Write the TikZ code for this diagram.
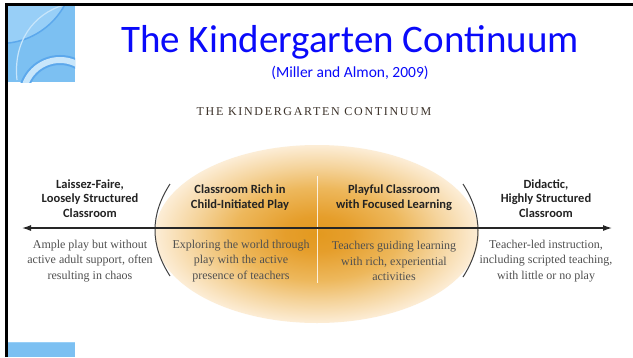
\documentclass[tikz,border=0pt]{standalone}
\usepackage{fontspec}
\setmainfont{Liberation Serif}
\newfontfamily\titlefont{Carlito}
\newfontfamily\capsfont[LetterSpace=14]{Liberation Serif}
\usetikzlibrary{arrows.meta}
\definecolor{titleblue}{RGB}{10,10,250}
\definecolor{headgray}{RGB}{35,35,35}
\definecolor{descgray}{RGB}{80,80,80}
\definecolor{capsbrown}{RGB}{60,50,42}
\definecolor{tileblue}{RGB}{124,192,242}
\definecolor{tilelight}{RGB}{152,207,247}
\definecolor{tiledark}{RGB}{92,168,236}
\definecolor{tilepale}{RGB}{200,230,251}
\pgfdeclareradialshading{kgglow}{\pgfpoint{0bp}{0bp}}{rgb(0bp)=(0.89,0.60,0.12);rgb(5bp)=(0.90,0.62,0.17);rgb(13bp)=(0.93,0.72,0.36);rgb(19bp)=(0.96,0.83,0.61);rgb(25bp)=(0.99,0.93,0.84);rgb(50bp)=(1,1,1)}
\tikzset{
  head/.style={font=\titlefont\bfseries\fontsize{12.5}{14.5}\selectfont, align=center, text=headgray, inner sep=0pt},
  desc/.style={font=\fontsize{12}{15.5}\selectfont, align=center, text=descgray, inner sep=0pt},
  bracket/.style={draw=black!75, line width=1pt},
  axis/.style={draw=black!85, line width=1.2pt, {Latex[length=9pt,width=6pt]}-{Latex[length=9pt,width=6pt]}}
}
\begin{document}
\begin{tikzpicture}[x=1pt,y=-1pt]
\useasboundingbox (0,0) rectangle (633,357);
\fill[white] (0,0) rectangle (633,357);
% frame
\draw[black, line width=3pt] (6,357) -- (6,4) -- (633,4);
% decorative tile top-left
\begin{scope}
  \clip (8,6) rectangle (75,82);
  \fill[tileblue] (8,6) rectangle (75,82);
  \fill[tilelight, draw=tiledark, line width=1.5pt] (0,-30) circle [radius=73.5];
  \draw[tilepale, line width=1.2pt] (17,80) .. controls (13,42) and (33,14) .. (64,5);
  \draw[tiledark, line width=10pt] (60,97) circle [radius=37];
  \draw[tilepale, line width=6pt] (60,97) circle [radius=37];
\end{scope}
% bottom tile
\fill[tileblue] (8,342) rectangle (75,357);
\draw[tilelight, line width=1pt] (8,342.5) -- (75,342.5);
% titles
\node[font=\titlefont\fontsize{39}{44}\selectfont, text=titleblue, anchor=base, inner sep=0pt] (title) at (350,52) {The Kindergarten Continuum};
\node[font=\titlefont\fontsize{15.5}{18}\selectfont, text=titleblue, anchor=base, inner sep=0pt] (cite) at (350,77) {(Miller and Almon, 2009)};
\node[font=\capsfont\fontsize{12}{14}\selectfont, text=capsbrown, anchor=base, inner sep=0pt] (caption) at (314,115) {THE KINDERGARTEN CONTINUUM};
% glow
\shade[shading=kgglow] (317,234) ellipse [x radius=162, y radius=89];
\draw[white, opacity=0.8, line width=1pt] (317,176) -- (317,283);
% brackets
\coordinate (lt) at (170,184);
\coordinate (lb) at (170,276);
\coordinate (rt) at (463,184);
\coordinate (rb) at (463,277);
\draw[bracket] (lt) .. controls (150,215) and (150,245) .. (lb);
\draw[bracket] (rt) .. controls (483,215) and (483,246) .. (rb);
% axis
\coordinate (aL) at (22,228);
\coordinate (aR) at (612,228);
\draw[axis] (aL) -- (aR);
% headings
\node[head] (h1) at (90,198.5) {Laissez-Faire,\\Loosely Structured\\Classroom};
\node[head] (h2) at (240,197.5) {Classroom Rich in\\Child-Initiated Play};
\node[head] (h3) at (394,197.5) {Playful Classroom\\with Focused Learning};
\node[head] (h4) at (546,198.5) {Didactic,\\Highly Structured\\Classroom};
% descriptions
\node[desc] (d1) at (90,261) {Ample play but without\\active adult support, often\\resulting in chaos};
\node[desc] (d2) at (241,261) {Exploring the world through\\play with the active\\presence of teachers};
\node[desc] (d3) at (394,261) {Teachers guiding learning\\with rich, experiential\\activities};
\node[desc] (d4) at (546,261) {Teacher-led instruction,\\including scripted teaching,\\with little or no play};
\end{tikzpicture}
\end{document}
